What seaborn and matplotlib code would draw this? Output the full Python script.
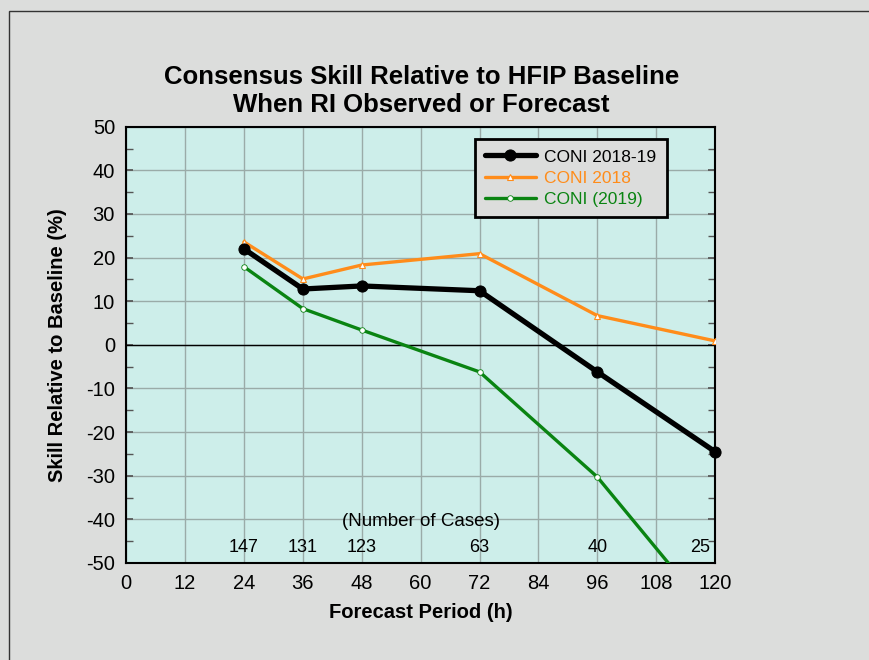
import matplotlib
matplotlib.use("Agg")
import matplotlib.pyplot as plt
from matplotlib.patches import Rectangle
from matplotlib.ticker import MultipleLocator
import pandas as pd
import seaborn as sns

hours = [24, 36, 48, 72, 96, 120]
coni_all = [22.0, 12.8, 13.5, 12.4, -6.2, -24.5]
coni_2018 = [23.6, 15.1, 18.3, 20.9, 6.7, 0.9]
coni_2019 = [17.9, 8.3, 3.4, -6.2, -30.3, -63.0]
cases = ["147", "131", "123", "63", "40", "25"]
case_x = [24, 36, 48, 72, 96, 117]

df = pd.DataFrame({"h": hours, "all": coni_all, "y2018": coni_2018, "y2019": coni_2019})

sns.set_theme(style="ticks")
plt.rcParams["font.family"] = ["Liberation Sans", "DejaVu Sans"]
plt.rcParams["axes.unicode_minus"] = False
plt.rcParams["text.color"] = "black"
plt.rcParams["axes.labelcolor"] = "black"
plt.rcParams["xtick.color"] = "black"
plt.rcParams["ytick.color"] = "black"

bg = "#dcdddc"
fig = plt.figure(figsize=(8.7, 6.6), dpi=100, facecolor=bg)
ax = fig.add_axes([0.145, 0.147, 0.677, 0.661])
ax.set_facecolor("#cdeeea")

# outer frame (only left/top visible)
fig.patches.append(Rectangle((9 / 870, -0.1), 1.2, 1 - 11 / 660 + 0.1, transform=fig.transFigure,
                             fill=False, edgecolor="#333333", linewidth=1.0))

orange = "#ff8c1a"
green = "#0a8412"

sns.lineplot(data=df, x="h", y="y2018", ax=ax, color=orange, linewidth=2.4, marker="^",
             markersize=5, markerfacecolor="white", markeredgecolor=orange, markeredgewidth=0.8,
             label="CONI 2018", zorder=3)
sns.lineplot(data=df, x="h", y="y2019", ax=ax, color=green, linewidth=2.4, marker="o",
             markersize=4, markerfacecolor="white", markeredgecolor=green, markeredgewidth=0.6,
             label="CONI (2019)", zorder=3)
sns.lineplot(data=df, x="h", y="all", ax=ax, color="black", linewidth=3.8, marker="o",
             markersize=8, markeredgecolor="black", label="CONI 2018-19", zorder=4, clip_on=False)

ax.axhline(0, color="black", linewidth=1.0, zorder=2)

ax.set_xlim(0, 120)
ax.set_ylim(-50, 50)
ax.xaxis.set_major_locator(MultipleLocator(12))
ax.yaxis.set_major_locator(MultipleLocator(10))
ax.yaxis.set_minor_locator(MultipleLocator(5))
ax.grid(True, which="major", color="#9aaba8", linewidth=1.0, zorder=1)
ax.set_axisbelow(True)
ax.tick_params(axis="y", which="both", direction="in", left=True, right=True, length=5,
               color="#555555", labelsize=14.5, pad=8)
ax.tick_params(axis="x", which="both", length=0, labelsize=14.5, pad=8)
for s in ax.spines.values():
    s.set_color("black")
    s.set_linewidth(1.5)

ax.set_xlabel("Forecast Period (h)", fontsize=14.5, fontweight="bold", labelpad=7)
ax.set_ylabel("Skill Relative to Baseline (%)", fontsize=14.5, fontweight="bold", labelpad=14)
fig.text(0.4845, 0.862, "Consensus Skill Relative to HFIP Baseline\nWhen RI Observed or Forecast",
         ha="center", va="center", fontsize=18.5, fontweight="bold", linespacing=1.2)

ax.text(60, -40.5, "(Number of Cases)", ha="center", va="center", fontsize=13.5)
for xc, c in zip(case_x, cases):
    ax.text(xc, -46.5, c, ha="center", va="center", fontsize=13)

handles, labels = ax.get_legend_handles_labels()
order = [2, 0, 1]
leg = ax.legend([handles[i] for i in order], [labels[i] for i in order], loc="upper right",
                bbox_to_anchor=(0.918, 0.972), fontsize=12.5, frameon=True, fancybox=False,
                facecolor=bg, edgecolor="black", framealpha=1, handlelength=2.9,
                handletextpad=0.5, borderpad=0.6, labelspacing=0.35, borderaxespad=0)
leg.get_frame().set_linewidth(2.0)
for t, col in zip(leg.get_texts(), ["black", orange, green]):
    t.set_color(col)

fig.savefig("out.png", dpi=100, facecolor=bg)
